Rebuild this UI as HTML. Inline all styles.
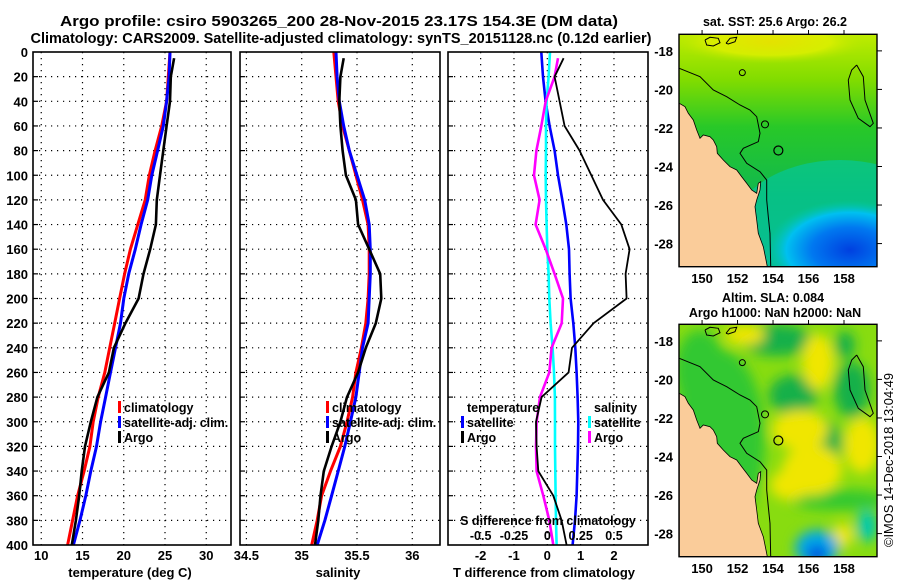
<!DOCTYPE html>
<html><head><meta charset="utf-8">
<style>
html,body{margin:0;padding:0;background:#fff;}
svg{display:block;font-family:"Liberation Sans",Arial,sans-serif;font-weight:bold;}
</style></head>
<body>
<svg id="fig" width="900" height="580" viewBox="0 0 900 580" xmlns="http://www.w3.org/2000/svg">
<defs>
 <clipPath id="cp1"><rect x="33" y="52" width="198" height="493"/></clipPath>
 <clipPath id="cp2"><rect x="240" y="52" width="200" height="493"/></clipPath>
 <clipPath id="cp3"><rect x="448" y="52" width="200" height="493"/></clipPath>
 <clipPath id="cpm"><rect x="679" y="34.3" width="198" height="232.4"/></clipPath>
 <filter id="blur6"><feGaussianBlur stdDeviation="6"/></filter>
 <linearGradient id="sstv" x1="0" y1="0" x2="0" y2="1">
  <stop offset="0" stop-color="#c0ec00"/><stop offset="0.2" stop-color="#80dc00"/>
  <stop offset="0.4" stop-color="#28c828"/><stop offset="0.7" stop-color="#10b850"/><stop offset="1" stop-color="#10b070"/>
 </linearGradient>
 <radialGradient id="sstblue" cx="0.5" cy="0.5" r="0.5">
  <stop offset="0" stop-color="#0040e0"/><stop offset="0.45" stop-color="#0078f0"/><stop offset="0.75" stop-color="#00c0f0"/><stop offset="1" stop-color="#00c8a0" stop-opacity="0"/>
 </radialGradient>
 <radialGradient id="ylw" cx="0.5" cy="0.5" r="0.5">
  <stop offset="0" stop-color="#f0e000"/><stop offset="0.6" stop-color="#e0f000"/><stop offset="1" stop-color="#b0e400" stop-opacity="0"/>
 </radialGradient>
 <radialGradient id="dgr" cx="0.5" cy="0.5" r="0.5">
  <stop offset="0" stop-color="#10a850"/><stop offset="0.6" stop-color="#20c040"/><stop offset="1" stop-color="#40d020" stop-opacity="0"/>
 </radialGradient>
 <radialGradient id="slablue" cx="0.5" cy="0.5" r="0.5">
  <stop offset="0" stop-color="#0040e0"/><stop offset="0.3" stop-color="#00a0f0"/><stop offset="0.6" stop-color="#00c0a0"/><stop offset="1" stop-color="#20c060" stop-opacity="0"/>
 </radialGradient>
</defs>

<text x="339" y="26" font-size="14.5" text-anchor="middle" textLength="558" lengthAdjust="spacingAndGlyphs">Argo profile: csiro 5903265_200 28-Nov-2015 23.17S 154.3E (DM data)</text>
<text x="341" y="43" font-size="14.5" text-anchor="middle" textLength="621" lengthAdjust="spacingAndGlyphs">Climatology: CARS2009. Satellite-adjusted climatology: synTS_20151128.nc (0.12d earlier)</text>

<g id="panels"></g>
<g id="maps"></g>

<text transform="translate(893,460) rotate(-90)" font-size="13" text-anchor="middle" font-weight="normal" textLength="174" lengthAdjust="spacingAndGlyphs">©IMOS 14-Dec-2018 13:04:49</text>
</svg>

<script>
// ---------- data ----------
const depths = [0,20,40,60,80,100,120,140,160,180,200,220,240,260,280,300,320,340,360,380,400];
const argoDepths = [5,20,40,60,80,100,120,140,160,180,200,220,240,260,280,300,320,340,360,380,400];
const tempClim = [25.6,25.4,25.2,24.6,23.8,23.1,22.6,21.7,20.8,20.1,19.5,18.9,18.3,17.7,16.9,16.3,15.9,15.2,14.4,13.8,13.2];
const tempSat  = [25.6,25.5,25.2,24.8,24.1,23.4,22.9,22.1,21.4,20.6,20.0,19.6,19.0,18.4,17.8,17.2,16.7,16.0,15.4,14.7,13.9];
const tempArgo = [26.1,25.7,25.6,25.2,24.8,24.4,24.0,23.9,23.2,22.4,21.8,20.2,18.8,18.2,16.8,16.0,15.3,14.9,14.6,14.2,13.7];
const salClim = [35.29,35.31,35.33,35.37,35.43,35.49,35.55,35.60,35.61,35.61,35.60,35.58,35.54,35.49,35.46,35.41,35.35,35.26,35.18,35.14,35.09];
const salSat  = [35.31,35.32,35.34,35.38,35.43,35.50,35.57,35.61,35.62,35.62,35.61,35.60,35.55,35.52,35.49,35.44,35.39,35.33,35.27,35.21,35.14];
const salArgo = [35.38,35.35,35.34,35.35,35.37,35.40,35.49,35.51,35.61,35.71,35.72,35.67,35.58,35.51,35.41,35.35,35.27,35.20,35.17,35.15,35.12];
const tDiffSat  = [-0.18,-0.13,-0.05,0.07,0.22,0.32,0.45,0.57,0.65,0.67,0.70,0.78,0.84,0.88,0.91,0.93,0.92,0.90,0.88,0.83,0.76];
const tDiffArgo = [0.49,0.22,0.37,0.52,0.97,1.32,1.67,2.22,2.47,2.35,2.38,1.39,0.74,0.64,-0.17,-0.34,-0.32,-0.27,0.18,0.43,0.58];
const sDiffSat  = [0.02,0.01,-0.005,-0.01,-0.01,-0.012,-0.01,-0.005,0,0.01,0.015,0.025,0.04,0.05,0.057,0.058,0.058,0.06,0.062,0.065,0.07];
const sDiffArgo = [0.08,0.055,-0.012,-0.045,-0.082,-0.1,-0.058,-0.088,-0.012,0.055,0.118,0.108,0.032,0.015,-0.055,-0.08,-0.085,-0.08,-0.03,0.015,0.045];
const depthTicks = [0,20,40,60,80,100,120,140,160,180,200,220,240,260,280,300,320,340,360,380,400];
const tempTicks = [10,15,20,25,30];
const salTicks = [34.5,35,35.5,36];
const tdTicks = [-2,-1,0,1,2];
const sdTicks = [-0.5,-0.25,0,0.25,0.5];
const lonTicks = [150,152,154,156,158];
const latTicks = [-18,-20,-22,-24,-26,-28];
const argoLon = 154.3, argoLat = -23.17;

const NS = "http://www.w3.org/2000/svg";
function mk(tag, attrs, parent, txt){
  const e = document.createElementNS(NS, tag);
  for (const k in attrs) e.setAttribute(k, attrs[k]);
  if (txt !== undefined) e.textContent = txt;
  parent.appendChild(e); return e;
}
const yD = d => 52 + (d/400)*493;
const panels = document.getElementById('panels');

function linearScale(d0,d1,p0,p1){ return v => p0 + (v-d0)/(d1-d0)*(p1-p0); }

function drawFrame(g, x0, w, xs, ticks, fmt, showY){
  depthTicks.forEach(d => {
    if (d===0||d===400) return;
    const l = mk('line',{x1:x0,x2:x0+w,y1:yD(d),y2:yD(d),stroke:'#000','stroke-width':1.2,'stroke-dasharray':'1.2,4.8'},g);
    
    
    const t1 = mk('line',{x1:x0,x2:x0+5,y1:yD(d),y2:yD(d),stroke:'#000','stroke-width':1.2},g);
    
    
  });
  ticks.forEach(v => {
    const x = xs(v);
    if (x<=x0+1||x>=x0+w-1) return;
    const l = mk('line',{x1:x,x2:x,y1:52,y2:545,stroke:'#000','stroke-width':1.2,'stroke-dasharray':'1.2,4.8'},g);
    
    
  });
  ticks.forEach(v => {
    const t = mk('text',{x:xs(v),y:560,'font-size':13,'text-anchor':'middle'},g,fmt(v));
    
    
  });
  if (showY){
    depthTicks.forEach(d => {
      const t = mk('text',{x:28,y:yD(d)+5,'font-size':13,'text-anchor':'end'},g,String(d));
      
      
    });
  }
}
function drawLine(g, clip, xs, vals, ds, color, width, name){
  const pts = vals.map((v,i)=> xs(v).toFixed(1)+','+yD(ds[i]).toFixed(1)).join(' ');
  const p = mk('polyline',{points:pts,fill:'none',stroke:color,'stroke-width':width,'stroke-linejoin':'round','clip-path':'url(#'+clip+')'},g);
  
  
}
function box(g,x0,w,name){
  const r = mk('rect',{x:x0,y:52,width:w,height:493,fill:'none',stroke:'#000','stroke-width':1.6},g);
  
  
}
function legendItem(g,x,y,color,label){
  const m = mk('rect',{x:x,y:y-11,width:3,height:12,fill:color},g);
  
  
  const t = mk('text',{x:x+6,y:y,'font-size':12.5},g,label);
  
  
}

// Panel 1 temperature
const g1 = mk('g',{},panels);


const xT = linearScale(9,33,33,231);
drawFrame(g1,33,198,xT,tempTicks,v=>String(v),true);
drawLine(g1,'cp1',xT,tempClim,depths,'#ff0000',3,'temp-climatology-line');
drawLine(g1,'cp1',xT,tempSat,depths,'#0000ff',3,'temp-satellite-line');
drawLine(g1,'cp1',xT,tempArgo,argoDepths,'#000000',2.6,'temp-argo-line');
box(g1,33,198,'temperature-axes');
legendItem(g1,118,412,'#ff0000','climatology');
legendItem(g1,118,427,'#0000ff','satellite-adj. clim.');
legendItem(g1,118,442,'#000000','Argo');
let at = mk('text',{x:130,y:577,'font-size':13,'text-anchor':'middle'},g1,'temperature (deg C)');



// Panel 2 salinity
const g2 = mk('g',{},panels);


const xS = linearScale(35,36,301.7,412.3);
drawFrame(g2,240,200,xS,salTicks,v=>String(v),false);
drawLine(g2,'cp2',xS,salClim,depths,'#ff0000',3,'sal-climatology-line');
drawLine(g2,'cp2',xS,salSat,depths,'#0000ff',3,'sal-satellite-line');
drawLine(g2,'cp2',xS,salArgo,argoDepths,'#000000',2.6,'sal-argo-line');
box(g2,240,200,'salinity-axes');
legendItem(g2,326,412,'#ff0000','climatology');
legendItem(g2,326,427,'#0000ff','satellite-adj. clim.');
legendItem(g2,326,442,'#000000','Argo');
at = mk('text',{x:338,y:577,'font-size':13,'text-anchor':'middle'},g2,'salinity');



// Panel 3 differences
const g3 = mk('g',{},panels);


const xD = linearScale(-3,3,447.3,647.3);
const xSD = linearScale(-0.75,0.75,447.3,647.3);
drawFrame(g3,448,200,xD,tdTicks,v=>String(v),false);
drawLine(g3,'cp3',xD,tDiffSat,depths,'#0000ff',2.6,'tdiff-satellite-line');
drawLine(g3,'cp3',xSD,sDiffSat,depths,'#00ffff',2.6,'sdiff-satellite-line');
drawLine(g3,'cp3',xSD,sDiffArgo,argoDepths,'#ff00ff',2.6,'sdiff-argo-line');
drawLine(g3,'cp3',xD,tDiffArgo,argoDepths,'#000000',1.8,'tdiff-argo-line');
box(g3,448,200,'difference-axes');
legendItem(g3,461,412,'#ffffff','temperature');
legendItem(g3,461,427,'#0000ff','satellite');
legendItem(g3,461,442,'#000000','Argo');
legendItem(g3,588,412,'#ffffff','salinity');
legendItem(g3,588,427,'#00ffff','satellite');
legendItem(g3,588,442,'#ff00ff','Argo');
at = mk('text',{x:548,y:525,'font-size':12.5,'text-anchor':'middle'},g3,'S difference from climatology');


sdTicks.forEach(v=>{
  const t = mk('text',{x:xSD(v),y:540,'font-size':12.5,'text-anchor':'middle'},g3,String(v));
  
  
});
at = mk('text',{x:544,y:577,'font-size':13,'text-anchor':'middle'},g3,'T difference from climatology');



// ---------- maps ----------
const maps = document.getElementById('maps');
const lonX = linearScale(148.7,159.86,679,877);
const latY = linearScale(-17.14,-29.2,34.3,266.7);
const Z = a => a.map(p => (660+p[0]/3).toFixed(1)+','+(p[1]/3).toFixed(1)).join(' ');
const landPts = [[58,310],[75,320],[85,340],[100,360],[110,390],[120,415],[130,405],[150,410],[160,420],[170,440],[172,460],[190,480],[210,500],[230,510],[245,530],[260,550],[275,570],[290,580],[295,550],[302,545],[300,570],[290,600],[285,620],[290,660],[295,700],[310,740],[318,780],[322,800],[58,800]];
const isoPts = [[58,205],[120,230],[160,270],[200,290],[240,315],[270,330],[290,350],[300,400],[295,425],[250,445],[240,460],[260,490],[300,515],[320,540],[320,600],[325,650],[330,700],[332,800]];
const reefPts = [[590,195],[610,230],[615,300],[640,370],[630,380],[595,355],[570,300],[565,240],[575,210],[590,195]];
const small1 = [[135,120],[150,112],[175,115],[180,128],[160,138],[140,135],[135,120]];
const small2 = [[198,130],[210,115],[230,112],[225,125],[205,132],[198,130]];

function drawMap(dy, kind, name){
  const g = mk('g',{transform:'translate(0,'+dy+')'},maps);
  
  
  const f = mk('g',{'clip-path':'url(#cpm)'},g);
  if (kind==='sst'){
    mk('rect',{x:679,y:34,width:198,height:233,fill:'url(#sstv)'},f);
    mk('ellipse',{cx:770,cy:42,rx:100,ry:22,fill:'url(#ylw)',opacity:0.8},f);
    mk('ellipse',{cx:840,cy:235,rx:110,ry:75,fill:'#00c8b0',opacity:0.55},f);
    mk('ellipse',{cx:850,cy:250,rx:85,ry:50,fill:'url(#sstblue)'},f);
  } else {
    mk('rect',{x:679,y:34,width:198,height:233,fill:'#88dc10'},f);
    const b = mk('g',{filter:'url(#blur6)'},f);
    [[720,150,45,90],[700,80,25,40],[840,210,50,10]].forEach(e=>
      mk('ellipse',{cx:e[0],cy:e[1],rx:e[2],ry:e[3],fill:'#30c830'},b));
    [[777,50,35,16],[793,105,24,20],[823,153,20,22],[845,55,10,14],[852,100,18,28]].forEach(e=>
      mk('ellipse',{cx:e[0],cy:e[1],rx:e[2],ry:e[3],fill:'#18b048'},b));
    [[818,72,16,28],[800,140,28,20],[812,180,30,25],[862,155,18,28],[790,195,20,15],[843,245,10,12],[745,45,20,10]].forEach(e=>
      mk('ellipse',{cx:e[0],cy:e[1],rx:e[2],ry:e[3],fill:'#f0e600'},b));
    mk('ellipse',{cx:817,cy:258,rx:22,ry:18,fill:'#00a8e8'},b);
    mk('ellipse',{cx:817,cy:264,rx:10,ry:8,fill:'#0040e0'},b);
    mk('ellipse',{cx:867,cy:236,rx:10,ry:16,fill:'#00c8b0'},b);
  }
  const land = mk('polygon',{points:Z(landPts),fill:'#facc9a',stroke:'#000','stroke-width':0.8},f);
  
  
  [isoPts,reefPts,small1,small2].forEach(p=>{
    const l = mk('polyline',{points:Z(p),fill:'none',stroke:'#000','stroke-width':1},f);
    
    
  });
  mk('circle',{cx:660+247/3,cy:218/3,r:3,fill:'none',stroke:'#000','stroke-width':1},f);
  mk('circle',{cx:660+315/3,cy:373/3,r:3.5,fill:'none',stroke:'#000','stroke-width':1},f);
  const c = mk('circle',{cx:lonX(argoLon),cy:latY(argoLat),r:4.5,fill:'none',stroke:'#000','stroke-width':1.2},g);
  
  
  const fr = mk('rect',{x:679,y:34.3,width:198,height:232.4,fill:'none',stroke:'#000','stroke-width':1.4},g);
  
  
  lonTicks.forEach(v=>{
    mk('line',{x1:lonX(v),x2:lonX(v),y1:30,y2:34.3,stroke:'#000','stroke-width':1},g);
    const t = mk('text',{x:lonX(v),y:283,'font-size':13,'text-anchor':'middle'},g,String(v));
    
    
  });
  latTicks.forEach(v=>{
    mk('line',{x1:877,x2:882,y1:latY(v),y2:latY(v),stroke:'#000','stroke-width':1},g);
    const t = mk('text',{x:673,y:latY(v)+5,'font-size':13,'text-anchor':'end'},g,String(v));
    
    
  });
  return g;
}
const m1 = drawMap(0,'sst','sst-map');
let mt = mk('text',{x:775,y:26,'font-size':12.5,'text-anchor':'middle'},m1,'sat. SST: 25.6 Argo: 26.2');


const m2 = drawMap(290,'sla','sla-map');
mt = mk('text',{x:773,y:12,'font-size':12.5,'text-anchor':'middle'},m2,'Altim. SLA: 0.084');


mt = mk('text',{x:775,y:27,'font-size':12.5,'text-anchor':'middle'},m2,'Argo h1000: NaN h2000: NaN');


</script>
</body></html>
